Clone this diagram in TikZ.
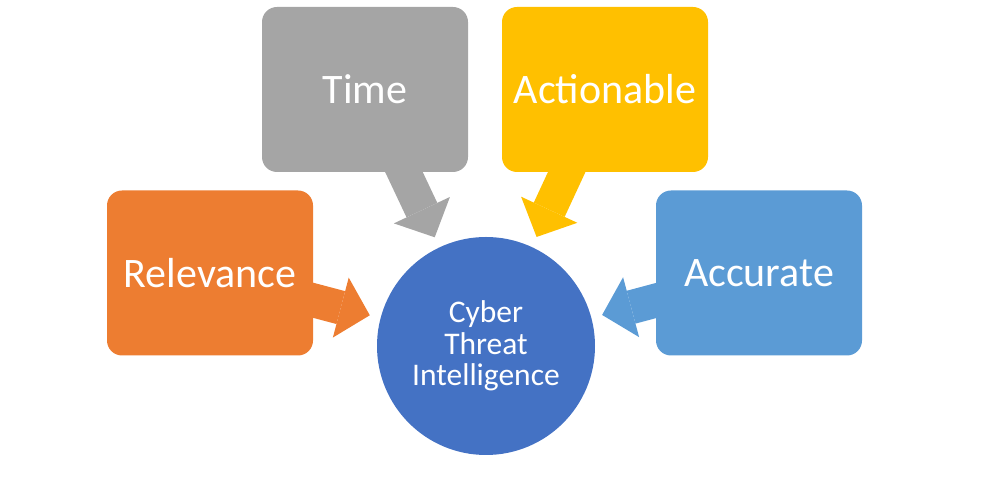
\documentclass[tikz,border=0pt]{standalone}
\usepackage{fontspec}
\setmainfont{Carlito}
\usetikzlibrary{arrows.meta,backgrounds}

\definecolor{timegray}{HTML}{A5A5A5}
\definecolor{actgold}{HTML}{FFC000}
\definecolor{relorange}{HTML}{ED7D31}
\definecolor{accblue}{HTML}{5B9BD5}
\definecolor{ctiblue}{HTML}{4472C4}

\begin{document}
\begin{tikzpicture}[x=1pt, y=1pt,
        box/.style={rounded corners=15pt, minimum width=206pt, minimum height=165pt,
            inner sep=0pt, text=white, font=\fontsize{42}{48}\selectfont},
        feed/.style={line width=34pt, shorten >=11pt,
            -{Triangle[length=30pt, width=62pt, line width=0pt]}}]
        \useasboundingbox (0, 0) rectangle (994, 481);

        % boxes time, act, rel, acc
        \node[box, fill=timegray] (time) at (365, 391.5) {Time};
        \node[box, fill=actgold] (act) at (605, 391.5) {Actionable};
        \node[box, fill=relorange] (rel) at (210, 208) {Relevance};
        \node[box, fill=accblue] (acc) at (759, 208) {Accurate};

        % node cti
        \node[circle, fill=ctiblue, minimum size=218pt, inner sep=0pt,
            text=white, align=center, font=\fontsize{31.5}{31.5}\selectfont]
            (cti) at (486, 135) {Cyber\\Threat\\Intelligence};

        % block arrows into cti
        \begin{scope}[on background layer]
            \draw[feed, timegray] (time.center) -- (cti);
            \draw[feed, actgold] (act.center) -- (cti);
            \draw[feed, relorange] (rel.center) -- (cti);
            \draw[feed, accblue] (acc.center) -- (cti);
        \end{scope}
    \end{tikzpicture}
\end{document}
